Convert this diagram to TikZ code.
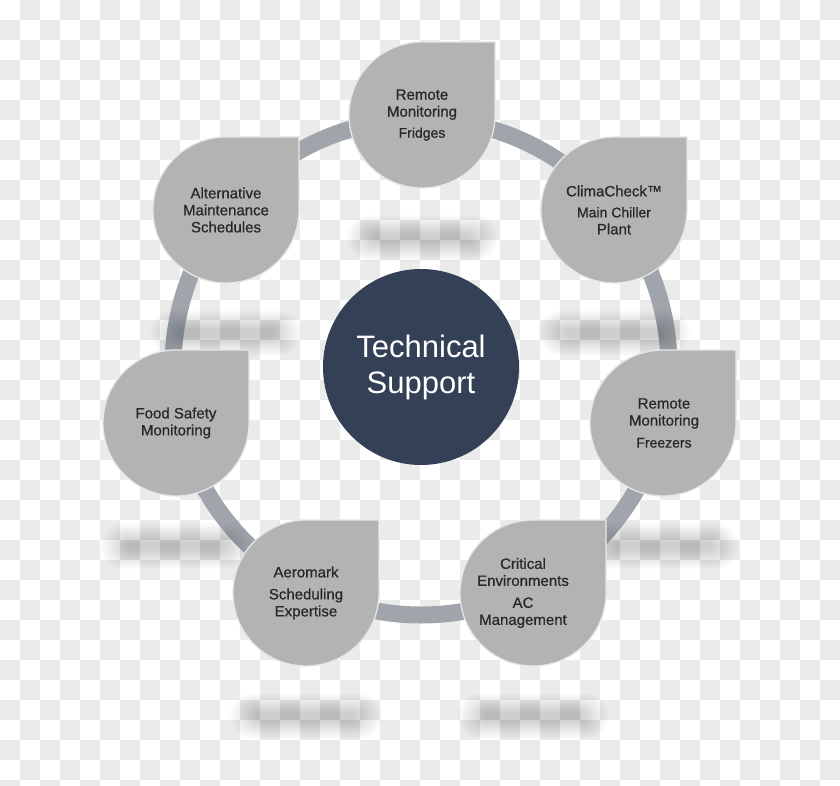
\documentclass[tikz,border=0pt]{standalone}
\usepackage{fontspec}
\setmainfont{Liberation Sans}
\newfontfamily\dropfont{Liberation Sans}[FakeBold=0.7]
\usepackage{tikz}
\definecolor{checker gray}{RGB}{235,235,235}
\definecolor{drop gray}{RGB}{179,179,179}
\definecolor{drop rim}{RGB}{230,230,230}
\definecolor{ring gray}{RGB}{160,165,172}
\definecolor{hub blue}{RGB}{52,64,86}
\definecolor{label gray}{RGB}{40,40,40}
\newcommand{\subfont}{\fontsize{14}{17}\selectfont}
\tikzset{
	drop/.style={fill=drop gray, draw=drop rim, line width=1.3pt},
	droptext/.style={align=center, text=label gray, font=\dropfont\fontsize{15}{17}\selectfont},
	hub/.style={circle, fill=hub blue, minimum size=196pt, inner sep=0pt, align=center,
		text=white, font=\fontsize{31}{36}\selectfont},
	ring/.style={draw=ring gray, line width=17pt},
	shadowlayer/.style={fill=black, opacity=0.013}
}

\begin{document}
\begin{tikzpicture}[x=1pt, y=-1pt]
		\useasboundingbox (0, 0) rectangle (840, 786);
		% checker background
		\begin{scope}
			\clip (0, 0) rectangle (840, 786);
			\fill[white] (0, 0) rectangle (840, 786);
			\foreach \i in {0,...,41} {
				\foreach \j in {0,...,39} {
					\ifodd\numexpr\i+\j\relax
						\fill[checker gray] ({20*\i}, {20*\j}) rectangle +(20, 20);
					\fi
				}
			}
		\end{scope}
		% hub and ring
		\node[hub] (hub) at (421, 367) {Technical\\Support};
		\draw[ring] (hub.center) circle[radius=248];
		% shadows
		\foreach \sx/\sy in {422/238, 614/333, 226/333, 176/546, 663/546, 306/716, 533/716} {
			\foreach \k in {0,...,15} {
				\pgfmathsetmacro{\h}{23-\k*1.25}
				\fill[shadowlayer, rounded corners=\h pt]
					({\sx-76+\k*1.8}, {\sy-\h}) rectangle ({\sx+76-\k*1.8}, {\sy+\h});
			}
		}
		% drops
		\foreach \x/\y/\dx/\name/\words in {
				422/115/0/fridges/{Remote\\Monitoring\\[4pt]\subfont Fridges},
				614/210/0/climacheck/{ClimaCheck™\\[4pt]\subfont Main Chiller\\Plant},
				663/423/1/freezers/{Remote\\Monitoring\\[5pt]\subfont Freezers},
				533/593/-10/critical/{Critical\\Environments\\[5pt]AC\\Management},
				306/593/0/aeromark/{Aeromark\\[5pt]Scheduling\\Expertise},
				176/423/0/foodsafety/{Food Safety\\Monitoring},
				226/210/0/alternative/{Alternative\\Maintenance\\Schedules}} {
			\draw[drop] (\x, {\y-73}) -- ({\x+73}, {\y-73}) -- ({\x+73}, \y)
				arc[start angle=0, end angle=270, radius=73] -- cycle;
			\node[droptext] (\name) at ({\x+\dx}, \y) {\words};
		}
	\end{tikzpicture}
\end{document}
